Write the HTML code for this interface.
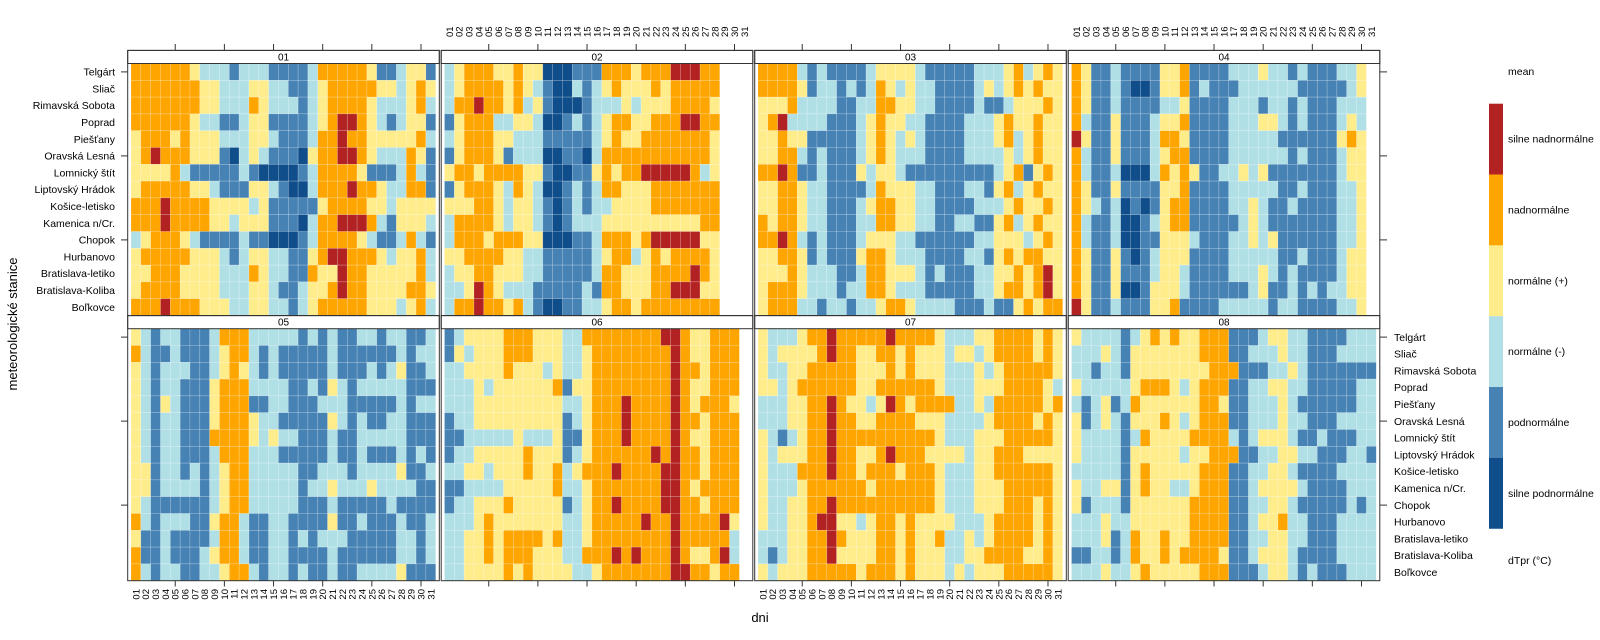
<!DOCTYPE html>
<html><head><meta charset="utf-8">
<style>
html,body{margin:0;padding:0;background:#fff;}
svg{display:block;}
text{font-family:"Liberation Sans",Arial,sans-serif;fill:#000;}
</style></head>
<body>
<svg id="s" width="1600" height="640" viewBox="0 0 1600 640" xmlns="http://www.w3.org/2000/svg"></svg>
<script>
var P=[
// 01
["OOOOOOYCCCBCCCBBBBCOOOOOYBBCYYB","OOOOOOOYYCCCYYCCBBCYOOOOOYYCYOY","OOOOOOOYYCCCOYCCCBCYOOOOYCCCYOC","OOOOOOYCCBBCYYBBBBCYORROYCBCYYB","YOOOYOYYYCCCYYCBBBCOOROOYYYYYOC","YOROOOYYYBDCYCBBBDYOORROYCCCOYB","YYYYOCBBBBBCBDDDDBCOOOOYBBBCOCB","YOOOOOYYCBBBYYCBDDCOOOROOYCCOOB","OOOROOOOYYYYCYBBBBBYOOOOYYCYYYY","OOOROOOOYYCYYYBBBDCOORRROCBYYYC","CYOOOYCBBBBCBBDDDBCOOOOYCBBCOCB","YOOOOOYYYCBCYYCCBBYORROOOYCYYOC","YYOOOYYYYCCCOYCCBBOYYROOYYYYYOC","YOOOOYYYYCCCYYCBBCYYOROOYYYYOOY","OOOROOOYYYCCYYCCBCYOOOOOYYYCYOC"],
// 02
["CYOOOYYOYYDDDBBBOOOYOOORRROO","CYOOOOYOYCBDDCBCYOYYYOYOOOOO","COOROOYOCYBDDDBCCCYCYYYOOOOY","BYOOOCCYYCDDBCBCYOOYYOOORROO","CYOOOYYCCCBBBBBCYOYYOOOOOOOY","BYOOOYBCCCDDBBDCOOOOOOOOOOOY","YOOYOOOOYYBDDBBYOYOORRRRROCY","BYOOOYCOYCDDBCBCOOYYYOOOOOOO","YYYOOYCYYCBDBCBCCYYYYOOOOOOO","COOOOYCYYCBDBCCCYYYYYYYYYYOO","COOOYOOOYYDDDBBCOOOYORRRRRYY","YYOOOOYYCCBBBBBCYOOCYOYOOOOY","CYYOOYYYCCBBBBBCOOYYYOOOOROY","CCYROYCCCBBBBBCBOOYYYOORRRYY","COOROOYOCBDDBBCCYOOYOOOOOOOO"],
// 03
["OOOOCBCBBBBCYYYYCBBBBBCCCYOCYOY","OOOOYBCCBCBCOYCYCCBBBBCYCYOYOYY","YYYOCCCCBBCCOOYYCCBBBBCBBCYYYOY","YORCCCCBBBCYOYYCCBBBBCCCYOYYOYY","YYOYYBBBBBCYOYCYCBBBBCCCYOCYOYY","YYOOCBCBBBCYOYCCCBBBBCCCCYCYOYY","OOROBBCBBBYCYYCBBBBBBBBBCYOBYOY","YYOOYCCBBBBCOYYYCCBBBCCBYOCYOYY","YYOOYCCBBBCYOOYYCCBBBBCCCYOYYOY","OYOOYCCBBBCCOOYYCCBBCCBBYOCYOYY","OOROCBCBBBCYYYCCBBBBBBCCYYYCYOY","YYOOYBCBBBYOOYCCCBBBBCCBYOYOOYY","YYYOYCCCBBCOOYYYCBCBBBCCYYOYORY","YOOOYCCCBCCOOYCCCBBBBBCCYOOYORY","YOOOCCBCCBCCYOOYCCCCBBBCBBYOYOO"],
// 04
["OYBBCBBBBYYOBBBBCCCYCCBCBBBCCY","OYBBCBDDBYYOBCBBBCCCCCCBBBBBCY","OYBBCBBBBCCYBBBBCCCBCCBCBBBCCC","OCBBYBBBCYYOBBBBCCCYYCBCBBBCYC","RYBBYBBBCOOYBBBBCCCCCBBBBBBYOY","OCBBYBBBCYOOBBBBCCCCCCBCBBBCYY","OCBBCDDDCOYOYBBCCYCYBBBBBBBCYY","OYBBYBBBBYYOBBBBCCCCCBBCBBBCCY","OYCBCDBDBYOOBBBBCCYCBBCBBBBCCY","OCBBCDDBCYOOBBBBBCYCBBBBBBBCCY","OCBBCDDBBYYYCBBBCCYCYBBBBBBCCY","OYBBYBDBCYYYBBBBCCCCCBBCBBBCYY","OYBBYBBBCYYCBBBBCCCYCBCBBBBCYY","OYBBYDDBYYYCBBBBBBCYBBCBCBCCYY","RYBBCBBBYYOBBBBCCCCCBCCBBBBCCY"],
// 05
["YCBCCBBBCOOOCCCCCBCBCBBCCBCCBBC","OCBBCBBBCYOOCBCBBBBBCBBBBBBCBCC","YCBCCCBBCYOYCBCBBBBBCBBBCBCYBBC","YCBCCBBBYOOOCCCCBBCBYCBCCCCCBBB","YCBYCBBBYOOOBBCCBBBCCCBBBBBCBCC","YCBCCBBBYOOOYCCBBBBBYCBCBBCCBBB","YCBCCBBBOOOOYCYCCBBBCBBCCCCCBBB","YCBCCBBBCOOOCCCBBBBBCBBCBBBCBCB","YYBCCBCBCYOOCCCCCBBCCCBCCCCYBBC","YYBCCCCBCYOOCCCCCBCCYCCCYCCCCBB","YCBBBBBBCYOOCCCCCBBBCBBBBBCBBBB","OCBCCCBBYOOCBBCCBBBBYBBCBBBCBBC","YBBCBBBBCOOCBBCCBCBCCCBBBBBCCBC","OBBCBBBCYOOCBBCCBBBBCBBBBBBCCBC","OCBCCBBCCYOOCBCCBCBBCBBCCCCYBBB"],
// 06
["BCYYYYOOOYYYCCOOOOOOOORROYYOOO","BYCYYYOOOYYYCCYOOOOOOOOROYYOOO","CCYYYYOYYYCYCCYOOOOOOOOROOYOOO","CCCYCYYYYYYOBYYOOOOOOOOROYYOOO","CCCYYYYYYYYYCCYOOOROOOOROYOOOY","BCCYYYYYYYYYBCYOOOROOOOROOYOOO","BBCCCCCYCCCYBBYOOOROOOOROYYOOO","BCCYYYYYOYYYBCYOOOOOOROROOYOOO","CCYYCYYYOYYOCYOOOROOOORROOYOOO","BBCCCCYYYYYOCCYOOOOOOORROYOOOO","BCCYYYOYYYYYBCYOOROOOORROOYOOO","CCCYOYYYYYYYCCYOOOOOROOROOOORY","CCYYOYOOOOYOCCYOOOOOOOOROOOOOC","CCYYOYOOOYYYCCOOOROROOOROYYORC","CCYYYYOYOYYYYCCYOOOOOOORROOYOOO"],
// 07
["YCCCYOOROOOOOROOOOYCCCYYOOOOYOY","YCYYYYOROOYYOOYOYYYCYYCYOOOOYOY","YCCYYOOOOOYYYOYOYYYCCCYCYOOOOOY","YYCYOOOOOOYYOOOOOOYCCCYYYOOOOYC","CCCYYOOROYYCYROYOOOOCCYCOOOOOYOY","CCCYYOOROOYYOOOOYYYCCCCYOOOOYOY","YCBCYOOROOOOOOOOOOYCCCYYYOOOOOY","YCYYYOOROOYYOROOOYYYYCYYOOOYYYY","YCCCOOOROOYOOOYOOOYCCCYYOOOOOOY","YCCCYOOOOOOYOOOOOOYCCCYYYOOOOOY","YCCYYOOROOOOOOOOOOYCCCYYYOOOYOY","YCCYYORRYYCYOOYOYYYYCCCYOOOOYOY","CCCYYOOROYYYOOYOYYOCCYCYOOOOYOY","CBCYYOORYYYYOOYOYYYCCYYOOOOYYOY","YCYYYOOOOOYOOOYOYYYCYCYYYOOOOOY"],
// 08
["YCCCCBCYOYOYYOOOBBBCYYCCBBBBCCC","CCCYCBYYYYYYYOOOBBCCCYCCBBBCCCC","CCBCCBYYYYYYYYOOOBBBCCYCBBBBBBBC","YCCCCCYOOOYCYOOOBBCCYYCCBBBBBCC","CBCYBCOYYYYYYOOYBBCCCYCBBBBBBCC","YBCYCBYYYOYCYOOOBBCCCYCCBBBCCCC","YCCCCBCOYYYYOOOOCBCYYYCBBCBBBCC","YCCCCBYYYYYCYYOOOBBCCYYCCBBBCCBC","CCCCCBYOYYYYYOOOBBCCYYCBBBBCCCC","YCCYYBYOYYCCYOOOBBCYYYYCBBBBCCC","YBCCCBYYYYYYOOOOBBCCYYCBBBBBCBC","CCCYCCYYYYYYOOOOBBCYYOCCBBBCCCC","CCCYBCOYYOYYOOOOBBCCYYCCBBBCCCC","BBCCBCOYYOYOOOOYBBCYYYCBBBBCCCC","CCCYCCYOYYYYYOOOBBBCYYCBCBBBCCC"]
];
var days=[31,28,31,30,31,30,31,31];
var col={R:"#B22222",O:"#FFA500",Y:"#FFEC8B",C:"#B0E0E6",B:"#4682B4",D:"#104E8B"};
var st=["Telgárt","Sliač","Rimavská Sobota","Poprad","Piešťany","Oravská Lesná","Lomnický štít","Liptovský Hrádok","Košice-letisko","Kamenica n/Cr.","Chopok","Hurbanovo","Bratislava-letiko","Bratislava-Koliba","Boľkovce"];
var cw=9.83, rh=16.8;
var h=[];
function fix(s,n){while(s.length<n)s+=s[s.length-1];return s.slice(0,n);}
function t(x,y,str,extra){h.push('<text x="'+x+'" y="'+y+'" '+(extra||'')+'>'+str+'</text>');}
var rowsY=[63.5,328.7], stripY=[50.4,315.6];
for(var p=0;p<8;p++){
  var k=p%4, r=Math.floor(p/4);
  var x0=131+313.5*k, y0=rowsY[r];
  var fl=x0-3.3, fr=x0+305+3.3;
  // cells
  for(var i=0;i<15;i++){
    var s=fix(P[p][i],days[p]);
    for(var d=0;d<days[p];d++){
      h.push('<rect x="'+(x0+d*cw).toFixed(2)+'" y="'+(y0+i*rh).toFixed(2)+'" width="'+cw+'" height="'+rh+'" fill="'+col[s[d]]+'" stroke="rgba(255,255,255,0.3)" stroke-width="0.6"/>');
    }
  }
  // strip
  h.push('<rect x="'+fl+'" y="'+stripY[r]+'" width="'+(fr-fl)+'" height="'+(y0-stripY[r])+'" fill="#fff" stroke="#333" stroke-width="1"/>');
  var m=p<9?"0"+(p+1):""+(p+1);
  t(x0+152.5,stripY[r]+10,m,'font-size="10" text-anchor="middle"');
  // frame
  h.push('<rect x="'+fl+'" y="'+stripY[r]+'" width="'+(fr-fl)+'" height="'+(y0+252-stripY[r])+'" fill="none" stroke="#333" stroke-width="1"/>');
  // x ticks
  for(var d=5;d<=30;d+=5){
    var xc=x0+(d-0.5)*cw;
    if(r==0) h.push('<line x1="'+xc+'" y1="44" x2="'+xc+'" y2="50.4" stroke="#333"/>');
    else h.push('<line x1="'+xc+'" y1="580.7" x2="'+xc+'" y2="586.5" stroke="#333"/>');
  }
  if((r==0&&(k==1||k==3))||(r==1&&(k==0||k==2))){
    for(var d=1;d<=31;d++){
      var xc=x0+(d-0.5)*cw+3.5;
      var lab=d<10?"0"+d:""+d;
      if(r==0) t(xc,37,lab,'font-size="9.5" transform="rotate(-90 '+xc+' 37)"');
      else t(xc,589,lab,'font-size="9.5" text-anchor="end" transform="rotate(-90 '+xc+' 589)"');
    }
  }
}
// y ticks & labels
for(var r=0;r<2;r++){
  [0,5,10].forEach(function(i){
    var yc=rowsY[r]+(i+0.5)*rh;
    h.push('<line x1="121" y1="'+yc+'" x2="127.7" y2="'+yc+'" stroke="#333"/>');
    h.push('<line x1="1380" y1="'+yc+'" x2="1387" y2="'+yc+'" stroke="#333"/>');
  });
}
for(var i=0;i<15;i++){
  t(115,63.5+(i+0.5)*rh+3.7,st[i],'font-size="10.5" text-anchor="end"');
  t(1394,328.7+(i+0.5)*rh+3.7,st[i],'font-size="10.5"');
}
t(17,324,"meteorologické stanice",'font-size="13" text-anchor="middle" transform="rotate(-90 17 324)"');
t(760,622,"dni",'font-size="13" text-anchor="middle"');
// legend
t(1508,75,"mean",'font-size="10.5"');
var lc=["R","O","Y","C","B","D"], ll=["silne nadnormálne","nadnormálne","normálne (+)","normálne (-)","podnormálne","silne podnormálne"];
for(var j=0;j<6;j++){
  var yy=103.7+j*70.83;
  h.push('<rect x="1489" y="'+yy+'" width="14" height="70.9" fill="'+col[lc[j]]+'"/>');
  t(1508,yy+39,ll[j],'font-size="10.5"');
}
t(1508,564,"dTpr (°C)",'font-size="10.5"');
document.getElementById("s").innerHTML=h.join("");
</script>
</body></html>
